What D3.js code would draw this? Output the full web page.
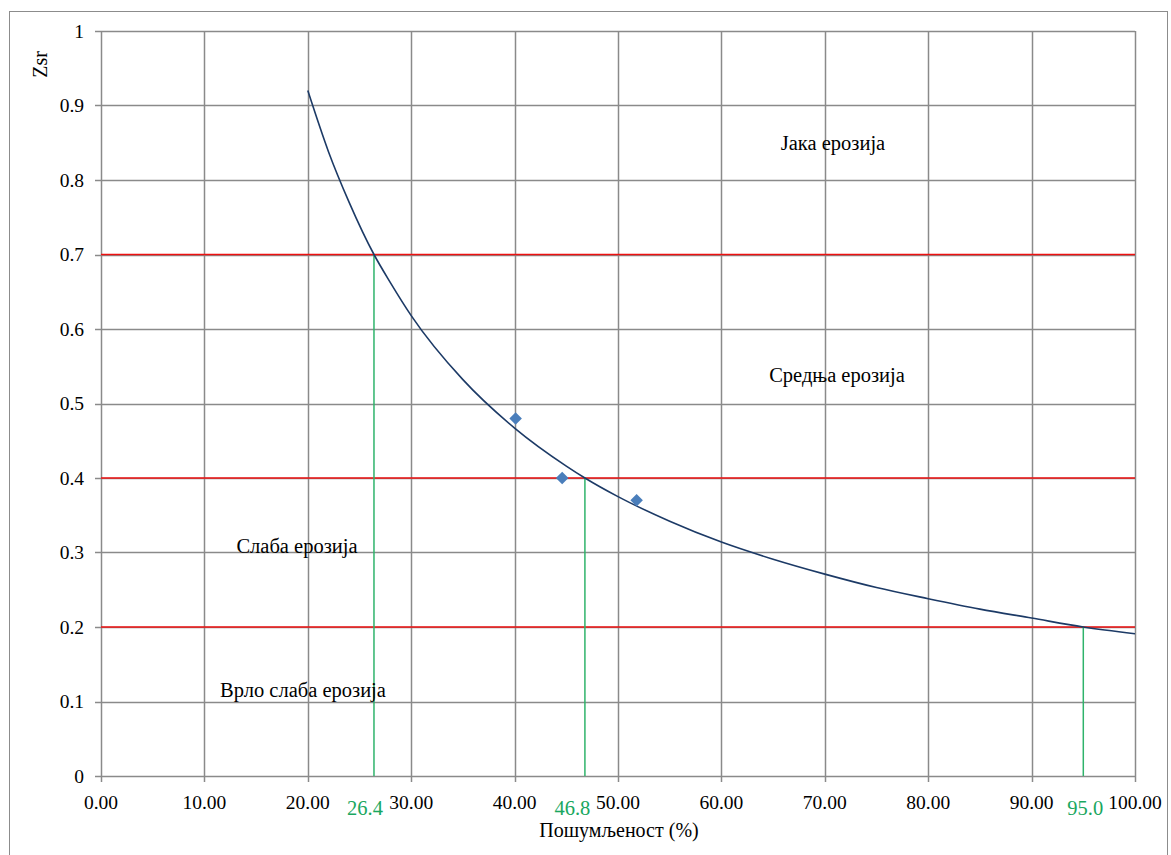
<!DOCTYPE html>
<html><head><meta charset="utf-8">
<script src="https://cdn.jsdelivr.net/npm/d3@7"></script>
<style>body{margin:0;background:#fff}svg{display:block}</style>
</head><body>
<script>
// Data
const xTicks = [0,10,20,30,40,50,60,70,80,90,100];
const yTicks = [0,0.1,0.2,0.3,0.4,0.5,0.6,0.7,0.8,0.9,1];
const yTickLabels = ["0","0.1","0.2","0.3","0.4","0.5","0.6","0.7","0.8","0.9","1"];
const curveX = [20,22,24,26.4,28,30,35,40,45,46.8,50,55,60,65,70,75,80,85,90,95,100];
const curveY = [0.92,0.838,0.77,0.70,0.662,0.618,0.532,0.467,0.416,0.40,0.375,0.342,0.314,0.291,0.271,0.253,0.238,0.224,0.212,0.20,0.191];
const pointX = [40.1,44.6,51.8];
const pointY = [0.48,0.40,0.37];
const limitY = [0.7,0.4,0.2];
const crossX = [26.4,46.8,95.0];
const crossLabels = ["26.4","46.8","95.0"];
const zoneNames = ["Јака ерозија","Средња ерозија","Слаба ерозија","Врло слаба ерозија"];
const zoneX = [833,837,297,303];
const zoneYv = [0.848,0.537,0.308,0.114];

const W=1171,H=855;
const svg=d3.select("body").append("svg").attr("width",W).attr("height",H);
const font="'Liberation Serif','Times New Roman',serif";
svg.append("rect").attr("x",9.5).attr("y",11.5).attr("width",1158).attr("height",860)
  .attr("fill","none").attr("stroke","#8c8c8c").attr("stroke-width",1);

const x=d3.scaleLinear().domain([0,100]).range([101,1135]);
const y=d3.scaleLinear().domain([0,1]).range([776,31]);
const g=svg.append("g");
const grid="#8a8a8a";
// grid
g.selectAll(".vg").data(xTicks.slice(1)).join("line")
  .attr("x1",d=>Math.round(x(d))+0.5).attr("x2",d=>Math.round(x(d))+0.5)
  .attr("y1",y(1)).attr("y2",y(0)+6).attr("stroke",grid).attr("stroke-width",1.5);
g.selectAll(".hg").data(yTicks.slice(1)).join("line")
  .attr("x1",x(0)-6).attr("x2",x(100))
  .attr("y1",d=>Math.round(y(d))+0.5).attr("y2",d=>Math.round(y(d))+0.5).attr("stroke",grid).attr("stroke-width",1.5);
// axes
g.append("line").attr("x1",x(0)+0.5).attr("x2",x(0)+0.5).attr("y1",y(1)).attr("y2",y(0)+6).attr("stroke",grid).attr("stroke-width",1.5);
g.append("line").attr("x1",x(0)-6).attr("x2",x(100)).attr("y1",y(0)+0.5).attr("y2",y(0)+0.5).attr("stroke",grid).attr("stroke-width",1.5);

// tick labels
g.selectAll(".xl").data(xTicks).join("text")
  .attr("x",d=>x(d)).attr("y",y(0)+33).attr("text-anchor","middle")
  .attr("font-family",font).attr("font-size",19.5).text(d=>d.toFixed(2));
g.selectAll(".yl").data(yTicks).join("text")
  .attr("x",x(0)-17).attr("y",d=>y(d)+6.5).attr("text-anchor","end")
  .attr("font-family",font).attr("font-size",19.5).text((d,i)=>yTickLabels[i]);

// red limit lines
g.selectAll(".rl").data(limitY).join("line")
  .attr("x1",x(0)).attr("x2",x(100)).attr("y1",d=>y(d)).attr("y2",d=>y(d))
  .attr("stroke","#ee1111").attr("stroke-width",1.6);

// green verticals
g.selectAll(".gl").data(crossX).join("line")
  .attr("x1",d=>x(d)).attr("x2",d=>x(d)).attr("y1",(d,i)=>y(limitY[i])).attr("y2",y(0))
  .attr("stroke","#2fb36b").attr("stroke-width",1.5);
const labelDx=[-9,-12.5,2];
g.selectAll(".gt").data(crossX).join("text")
  .attr("x",(d,i)=>x(d)+labelDx[i]).attr("y",y(0)+39).attr("text-anchor","middle")
  .attr("font-family",font).attr("font-size",20.5).attr("fill","#1aa760").text((d,i)=>crossLabels[i]);

// curve
const line=d3.line().x(d=>x(d[0])).y(d=>y(d[1])).curve(d3.curveMonotoneX);
g.append("path").datum(curveX.map((v,i)=>[v,curveY[i]])).attr("d",line)
  .attr("fill","none").attr("stroke","#1c3a66").attr("stroke-width",1.6);

// points
g.selectAll(".pt").data(pointX).join("path")
  .attr("transform",(d,i)=>`translate(${x(d)},${y(pointY[i])})`)
  .attr("d",d3.symbol().type(d3.symbolDiamond2).size(100))
  .attr("fill","#4a7ebb");

// zone labels
g.selectAll(".zn").data(zoneNames).join("text")
  .attr("x",(d,i)=>zoneX[i]).attr("y",(d,i)=>y(zoneYv[i])+6).attr("text-anchor","middle")
  .attr("font-family",font).attr("font-size",20.5).text(d=>d);

// axis titles
svg.append("text").attr("x",619).attr("y",837).attr("text-anchor","middle")
  .attr("font-family",font).attr("font-size",20).text("Пошумљеност (%)");
svg.append("text").attr("transform","translate(47,64.5) rotate(-90)").attr("text-anchor","middle")
  .attr("font-family",font).attr("font-size",20).text("Zsr");
</script>
</body></html>
